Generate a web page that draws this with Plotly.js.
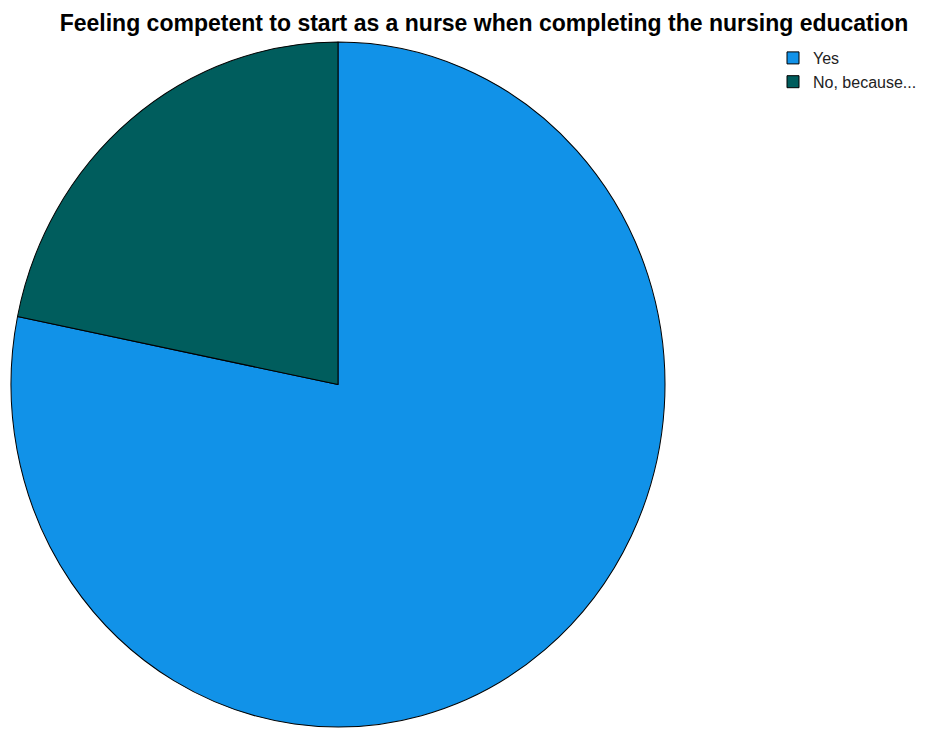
<!DOCTYPE html>
<html>
<head>
<meta charset="utf-8">
<script src="https://cdn.plot.ly/plotly-3.0.1.min.js"></script>
<style>html,body{margin:0;padding:0;background:#fff;}#chart{width:933px;height:729px;}</style>
</head>
<body>
<div id="chart"></div>
<script>
const categories = ["Yes", "No, because..."];
const counts = [43, 12];
const colors = ["#1192e8", "#005d5d"];
const chartTitle = "Feeling competent to start as a nurse when completing the nursing education";

const W = 933, H = 729;
const cx = 338, cy = 384.5, rx = 327, ry = 342.5;

const data = [{
  type: "pie",
  labels: categories,
  values: counts,
  sort: false,
  direction: "clockwise",
  rotation: 0,
  textinfo: "none",
  hoverinfo: "label+value+percent",
  marker: { colors: colors, line: { color: "#000000", width: 1 } },
  domain: {
    x: [(cx - rx) / W, (cx + rx) / W],
    y: [(H - cy - rx) / H, (H - cy + rx) / H]
  }
}];

const layout = {
  width: W, height: H,
  margin: { l: 0, r: 0, t: 0, b: 0 },
  paper_bgcolor: "#ffffff",
  title: {
    text: "<b>" + chartTitle + "</b>",
    font: { family: "Liberation Sans, Arial, sans-serif", size: 23, color: "#000000" },
    x: 484 / W, xanchor: "center",
    y: 1 - 23 / H, yanchor: "middle"
  },
  showlegend: true,
  legend: {
    x: 773 / W, xanchor: "left",
    y: 1 - 41 / H, yanchor: "top",
    font: { family: "Liberation Sans, Arial, sans-serif", size: 16, color: "#222222" },
    itemwidth: 30,
    bgcolor: "rgba(0,0,0,0)"
  }
};

Plotly.newPlot("chart", data, layout, { displayModeBar: false, staticPlot: true }).then(function (gd) {
  // The reference pie is slightly taller than wide: stretch the drawn pie vertically about its centre.
  const layer = gd.querySelector(".pielayer");
  if (layer) {
    const s = ry / rx;
    layer.setAttribute("transform",
      "translate(0," + cy + ") scale(1," + s + ") translate(0," + (-cy) + ")");
  }
});
</script>
</body>
</html>
